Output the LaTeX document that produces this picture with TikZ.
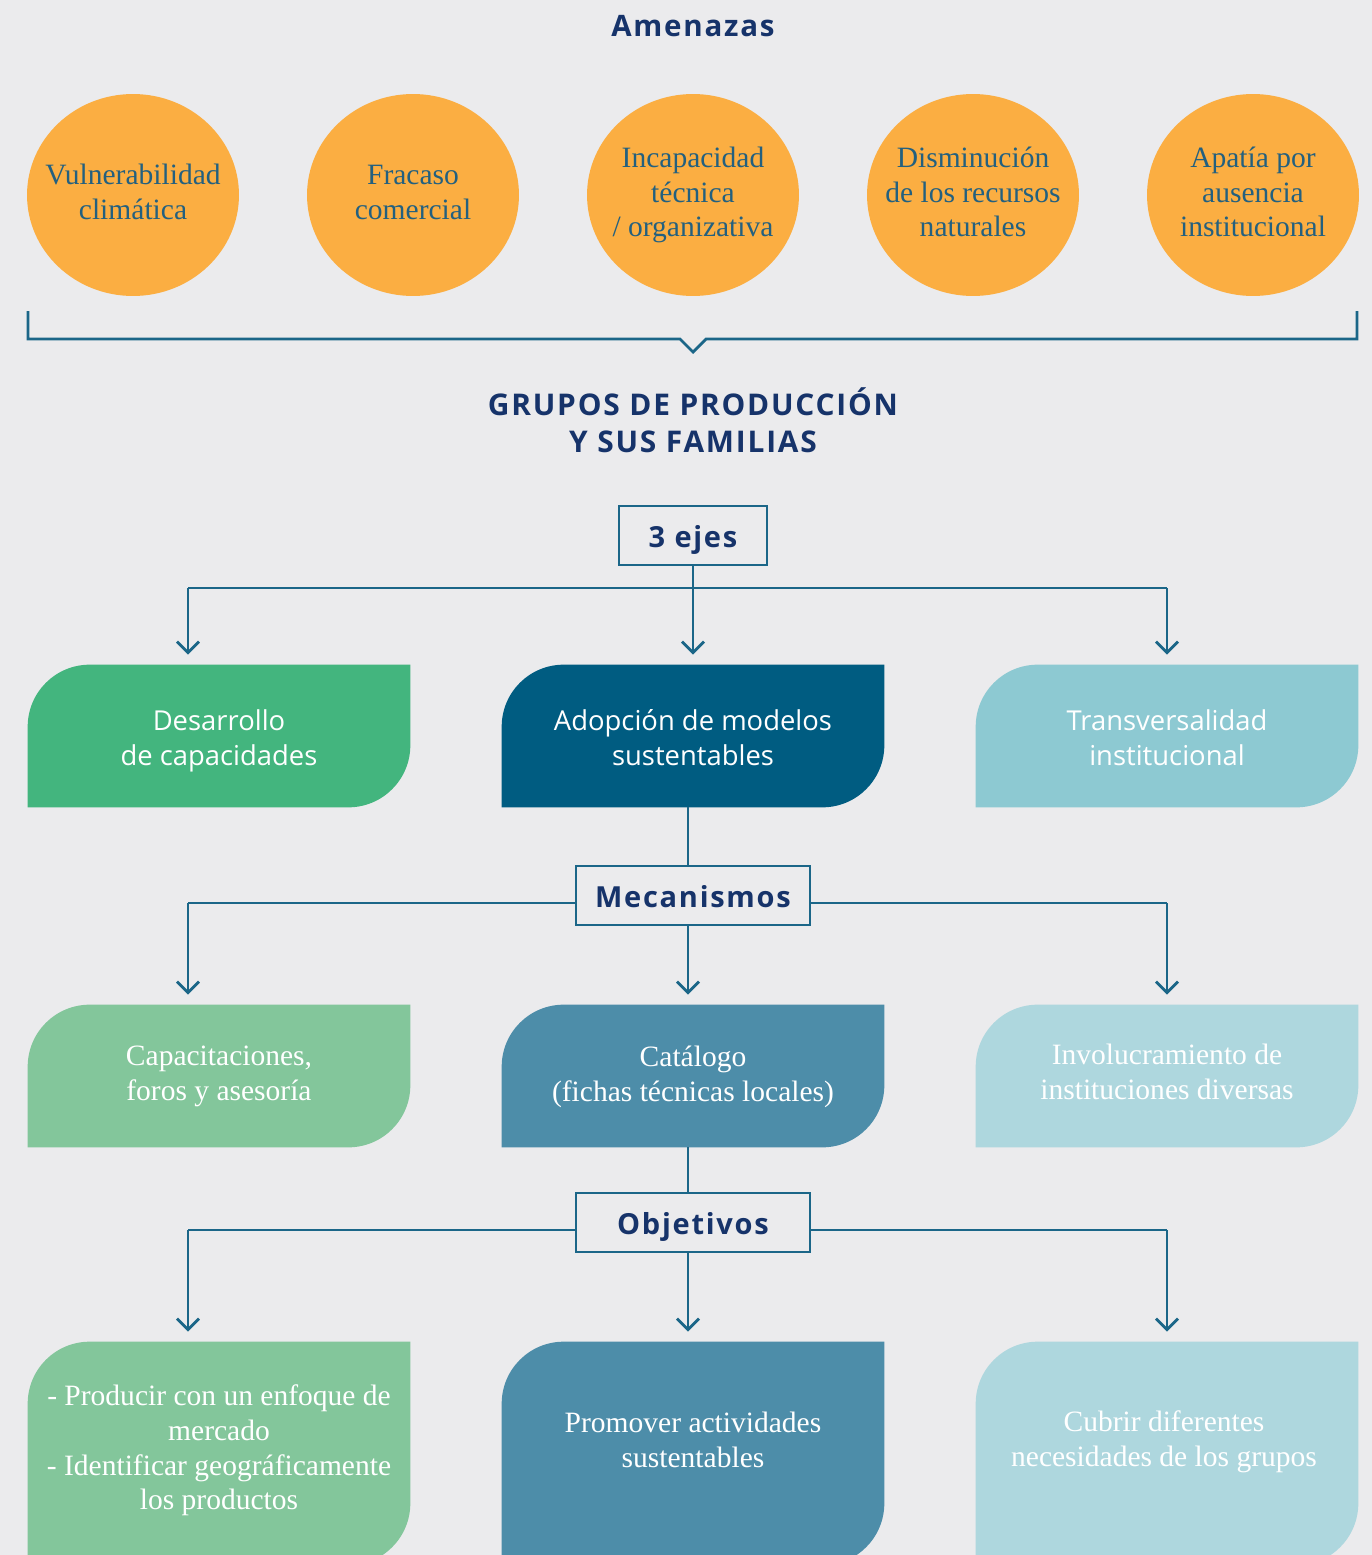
\documentclass[tikz,border=0pt]{standalone}
\usepackage{fontspec}
\setmainfont{Liberation Serif}
\newfontfamily\sansf{Open Sans}
\newfontfamily\headf[LetterSpace=6]{Open Sans}
\usetikzlibrary{arrows.meta,shapes.geometric}
\definecolor{bgc}{HTML}{EBEBED}
\definecolor{orng}{HTML}{FBAE42}
\definecolor{ctext}{HTML}{23607F}
\definecolor{navy}{HTML}{16336A}
\definecolor{linec}{HTML}{1B6688}
\definecolor{greenA}{HTML}{43B57E}
\definecolor{blueA}{HTML}{005C81}
\definecolor{tealA}{HTML}{8DC9D2}
\definecolor{greenB}{HTML}{83C69B}
\definecolor{blueB}{HTML}{4D8DA9}
\definecolor{tealB}{HTML}{AED7DE}
\pgfdeclarelayer{back}
\pgfdeclarelayer{boxes}
\pgfsetlayers{back,boxes,main}
\newcommand\leafbox[2]{%
  \begin{pgfonlayer}{boxes}
  \fill[#2] (#1.south west) -- ([yshift=-1.24cm]#1.north west)
    arc[start angle=180,end angle=90,radius=1.24cm] -- (#1.north east)
    -- ([yshift=1.24cm]#1.south east)
    arc[start angle=0,end angle=-90,radius=1.24cm] -- cycle;
  \end{pgfonlayer}}
\tikzset{
  threat/.style={ellipse,fill=orng,inner sep=0pt,minimum width=4.24cm,minimum height=4.04cm},
  ttext/.style={text=ctext,align=center,inner sep=0pt,font=\fontsize{16.8}{19.8}\selectfont},
  hbox/.style={draw=linec,line width=1.6pt,fill=bgc,inner sep=0pt,text=navy,
    font=\headf\bfseries\fontsize{16.5}{20}\selectfont,minimum height=1.18cm,
    text height=13.5pt,text depth=0pt},
  leaf/.style={inner sep=0pt,minimum width=7.64cm},
  leafA/.style={leaf,minimum height=2.84cm},
  leafC/.style={leaf,minimum height=4.46cm},
  stext/.style={text=white,align=center,inner sep=0pt,font=\sansf\fontsize{15.6}{19.8}\selectfont},
  ltext/.style={text=white,align=center,inner sep=0pt,font=\fontsize{16.8}{19.8}\selectfont},
  conn/.style={draw=linec,line width=1.6pt},
  arr/.style={conn,-{Straight Barb[length=0.22cm,width=0.44cm,line width=1.6pt]},shorten >=0.2cm},
}
\begin{document}
\begin{tikzpicture}[x=0.02cm,y=-0.02cm]
\useasboundingbox (0,0) rectangle (1372,1555);
\begin{pgfonlayer}{back}
\fill[bgc] (0,0) rectangle (1372,1555);
\end{pgfonlayer}
\clip (0,0) rectangle (1372,1555);

% title
\node[text=navy,font=\headf\bfseries\fontsize{16.8}{20}\selectfont] (tam) at (693,26) {Amenazas};

% threats
\node[threat] (t1) at (133,195) {};
\node[threat] (t2) at (413,195) {};
\node[threat] (t3) at (693,195) {};
\node[threat] (t4) at (973,195) {};
\node[threat] (t5) at (1253,195) {};
\node[ttext] (t1t) at (133,192) {Vulnerabilidad\\climática};
\node[ttext] (t2t) at (413,192.5) {Fracaso\\comercial};
\node[ttext] (t3t) at (693,195) {Incapacidad\\técnica\\/ organizativa};
\node[ttext] (t4t) at (973,192) {Disminución\\de los recursos\\naturales};
\node[ttext] (t5t) at (1253,192) {Apatía por\\ausencia\\institucional};

% brace
\coordinate (bl) at (28,311);
\coordinate (br) at (1357,311);
\coordinate (bt) at (693,352);
\draw[conn] (bl) -- (28,339) -- (680,339) -- (bt) -- (706,339) -- (1357,339) -- (br);

% heading
\node[text=navy,align=center,font=\headf\bfseries\fontsize{17}{21}\selectfont] (grp) at (693,420) {GRUPOS DE PRODUCCIÓN\\Y SUS FAMILIAS};

% 3 ejes
\node[hbox,minimum width=2.96cm,text height=14pt] (ejes) at (693,535.5) {3 ejes};
\node[leafA] (a1) at (219,736) {};
\node[leafA] (a2) at (693,736) {};
\node[leafA] (a3) at (1167,736) {};
\leafbox{a1}{greenA}\leafbox{a2}{blueA}\leafbox{a3}{tealA}
\node[stext] (a1t) at (219,741) {Desarrollo\\de capacidades};
\node[stext] (a2t) at (693,738) {Adopción de modelos\\sustentables};
\node[stext] (a3t) at (1167,738) {Transversalidad\\institucional};
\coordinate (e1) at (188,588);
\coordinate (e3) at (1167,588);
\draw[conn] (e1) -- (e3);
\draw[arr] (e1) -- (e1 |- a1.north);
\draw[arr] (e3) -- (e3 |- a3.north);
\draw[arr] (ejes.south) -- (ejes.south |- a2.north);

% Mecanismos
\node[hbox,minimum width=4.68cm] (mec) at (693,895.5) {Mecanismos};
\node[leafA] (b1) at (219,1076) {};
\node[leafA] (b2) at (693,1076) {};
\node[leafA] (b3) at (1167,1076) {};
\leafbox{b1}{greenB}\leafbox{b2}{blueB}\leafbox{b3}{tealB}
\node[ltext] (b1t) at (219,1076.5) {Capacitaciones,\\foros y asesoría};
\node[ltext] (b2t) at (693,1076.5) {Catálogo\\(fichas técnicas locales)};
\node[ltext] (b3t) at (1167,1072) {Involucramiento de\\instituciones diversas};
\coordinate (m0) at (688,807);
\draw[conn] (m0) -- (m0 |- mec.north);
\coordinate (m1) at (188,903);
\coordinate (m3) at (1167,903);
\draw[conn] (mec.west |- m1) -- (m1);
\draw[conn] (mec.east |- m3) -- (m3);
\draw[arr] (m1) -- (m1 |- b1.north);
\draw[arr] (m3) -- (m3 |- b3.north);
\draw[arr] (m0 |- mec.south) -- (m0 |- b2.north);

% Objetivos
\node[hbox,minimum width=4.68cm] (obj) at (693,1222.5) {Objetivos};
\node[leafC] (c1) at (219,1453.5) {};
\node[leafC] (c2) at (693,1453.5) {};
\node[leafC] (c3) at (1167,1453.5) {};
\leafbox{c1}{greenB}\leafbox{c2}{blueB}\leafbox{c3}{tealB}
\node[ltext] (c1t) at (219,1450.5) {- Producir con un enfoque de\\mercado\\- Identificar geográficamente\\los productos};
\node[ltext] (c2t) at (693,1440) {Promover actividades\\sustentables};
\node[ltext] (c3t) at (1164,1442) {Cubrir diferentes\\necesidades de los grupos};
\coordinate (o0) at (688,1147);
\draw[conn] (o0) -- (o0 |- obj.north);
\coordinate (o1) at (188,1230);
\coordinate (o3) at (1167,1230);
\draw[conn] (obj.west |- o1) -- (o1);
\draw[conn] (obj.east |- o3) -- (o3);
\draw[arr] (o1) -- (o1 |- c1.north);
\draw[arr] (o3) -- (o3 |- c3.north);
\draw[arr] (o0 |- obj.south) -- (o0 |- c2.north);
\end{tikzpicture}
\end{document}
